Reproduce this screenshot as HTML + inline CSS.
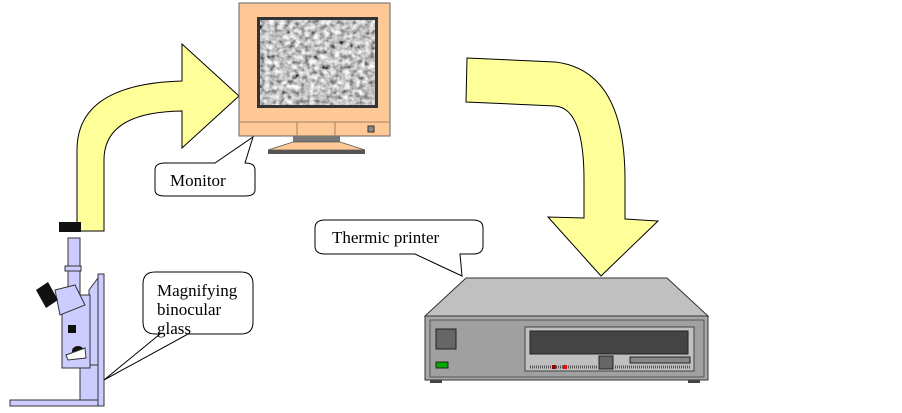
<!DOCTYPE html>
<html><head><style>body{margin:0;background:#fff}svg{display:block}text{font-family:"Liberation Serif",serif;font-size:17px;fill:#000}</style></head>
<body>
<svg width="902" height="413" viewBox="0 0 902 413" xmlns="http://www.w3.org/2000/svg">
<defs>
<filter id="n" x="0" y="0" width="100%" height="100%">
<feTurbulence type="fractalNoise" baseFrequency="0.2" numOctaves="2" seed="3"/>
<feColorMatrix type="saturate" values="0"/>
<feComponentTransfer><feFuncR type="linear" slope="2" intercept="-0.45"/><feFuncG type="linear" slope="2" intercept="-0.45"/><feFuncB type="linear" slope="2" intercept="-0.45"/><feFuncA type="linear" slope="0" intercept="1"/></feComponentTransfer>
</filter>
</defs>
<path d="M77,231 L77,150 Q77,84 182,81 L182,44 L239,96 L182,148 L182,111 Q104,112 104,160 L104,231 Z" fill="#ffff99" stroke="#000" stroke-width="1"/>
<path d="M467,58 L555,62 Q625,70 625,180 L625,219 L658,221 L601,276 L548,217 L584,218 L584,180 Q584,108 555,106 L466,102 Z" fill="#ffff99" stroke="#000" stroke-width="1"/>
<rect x="239" y="3" width="151" height="133" fill="#ffc897" stroke="#666"/>
<rect x="257" y="17" width="121" height="91" fill="#333"/>
<rect x="260" y="20" width="115" height="85" fill="#999" filter="url(#n)"/>
<line x1="239" y1="122" x2="390" y2="122" stroke="#a08060"/>
<line x1="297" y1="122" x2="297" y2="136" stroke="#a08060"/>
<line x1="335" y1="122" x2="335" y2="136" stroke="#a08060"/>
<rect x="368" y="126" width="6" height="6" fill="#888" stroke="#333"/>
<rect x="293" y="136" width="47" height="6" fill="#777"/>
<path d="M293,142 L340,142 L365,150 L268,150 Z" fill="#ffc897" stroke="#555" stroke-width="0.7"/>
<rect x="268" y="150" width="97" height="4" fill="#555"/>
<path d="M165,163 L215,163 L253,137 L245,163 Q255,163 255,170 L255,190 Q255,196 245,196 L165,196 Q155,196 155,190 L155,170 Q155,163 165,163 Z" fill="#fff" stroke="#000"/>
<text x="170" y="186">Monitor</text>
<path d="M325,220 L473,220 Q483,220 483,228 L483,246 Q483,254 473,254 L460,254 L462,276 L415,254 L325,254 Q315,254 315,246 L315,228 Q315,220 325,220 Z" fill="#fff" stroke="#000"/>
<text x="332" y="243">Thermic printer</text>
<path d="M155,272 L241,272 Q253,272 253,284 L253,322 Q253,334 241,334 L188,334 L104,380 L160,334 L155,334 Q143,334 143,322 L143,284 Q143,272 155,272 Z" fill="#fff" stroke="#000"/>
<text x="157" y="296">Magnifying</text>
<text x="157" y="315">binocular</text>
<text x="157" y="334">glass</text>
<rect x="10" y="400" width="94" height="6" fill="#ccccff" stroke="#333"/>
<rect x="98" y="274" width="6" height="132" fill="#ccccff" stroke="#333"/>
<rect x="80" y="365" width="18" height="35" fill="#ccccff" stroke="#333"/>
<path d="M89,290 L98,278 L98,365 L89,365 Z" fill="#ccccff" stroke="#333"/>
<rect x="62" y="295" width="28" height="73" fill="#ccccff" stroke="#333"/>
<rect x="68" y="238" width="12" height="57" fill="#ccccff" stroke="#333"/>
<rect x="65" y="266" width="16" height="5" fill="#ccccff" stroke="#333"/>
<rect x="59" y="222" width="22" height="10" fill="#111"/>
<path d="M55,290 L75,285 L85,305 L60,315 Z" fill="#ccccff" stroke="#333"/>
<path d="M36,290 L48,282 L58,300 L46,308 Z" fill="#111"/>
<rect x="68" y="325" width="8" height="8" fill="#111"/>
<ellipse cx="78" cy="351" rx="6" ry="5" fill="#111"/>
<path d="M66,355 L85,348 L86,358 L68,360 Z" fill="#fff" stroke="#333"/>
<path d="M466,278 L667,278 L708,316 L425,316 Z" fill="#c0c0c0" stroke="#333"/>
<rect x="425" y="316" width="283" height="64" fill="#a8a8a8" stroke="#333"/>
<rect x="430" y="320" width="274" height="57" fill="#a0a0a0" stroke="#555"/>
<rect x="430" y="380" width="12" height="3" fill="#444"/><rect x="688" y="380" width="12" height="3" fill="#444"/>
<rect x="436" y="329" width="20" height="20" fill="#666" stroke="#222"/>
<rect x="436" y="362" width="12" height="6" fill="#0a0" stroke="#222"/>
<rect x="525" y="327" width="169" height="44" fill="#c0c0c0" stroke="#444"/>
<rect x="530" y="331" width="158" height="23" fill="#444" stroke="#222"/>
<rect x="599" y="356" width="14" height="13" fill="#666" stroke="#222"/>
<rect x="630" y="357" width="60" height="6" fill="#888" stroke="#222"/>
<line x1="530" y1="367" x2="597" y2="367" stroke="#555" stroke-width="3" stroke-dasharray="1,1"/>
<line x1="615" y1="367" x2="690" y2="367" stroke="#555" stroke-width="3" stroke-dasharray="1,1"/>
<rect x="552" y="365" width="4" height="4" fill="#900"/><rect x="563" y="365" width="4" height="4" fill="#f00"/>
</svg>
</body></html>
